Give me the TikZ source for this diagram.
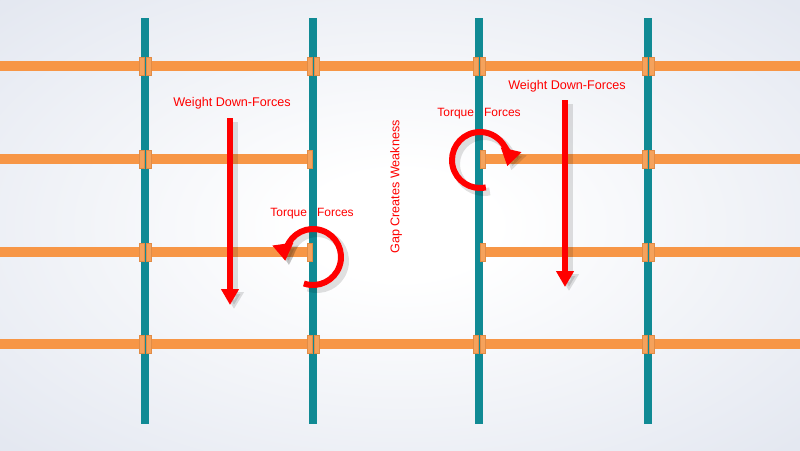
\documentclass[tikz,border=0pt]{standalone}
\usepackage{fontspec}
\setmainfont{Liberation Sans}
\usetikzlibrary{arrows.meta}
\definecolor{bgout}{RGB}{200,208,226}
\definecolor{postc}{RGB}{16,138,148}
\definecolor{beamc}{RGB}{247,150,70}
\definecolor{brkc}{RGB}{245,162,92}
\definecolor{brkd}{RGB}{225,140,70}
\definecolor{redc}{RGB}{255,0,0}
\pgfdeclareradialshading{bgshade}{\pgfpoint{0bp}{0bp}}{color(0bp)=(white); color(6bp)=(white); color(50bp)=(bgout!75!white); color(72bp)=(bgout); color(100bp)=(bgout)}
\tikzset{
  post/.style={fill=postc, draw=none},
  beam/.style={fill=beamc, draw=none},
  brk/.style={fill=brkc, draw=brkd, line width=0.4pt},
  lbl/.style={text=redc, font=\fontsize{12.6}{14}\selectfont, inner sep=0pt},
  tlbl/.style={text=redc, font=\fontsize{12}{14}\selectfont, inner sep=0pt},
  force/.style={draw=redc, line width=6pt, -{Triangle[width=17pt,length=16pt]}},
  forceshadow/.style={draw=black, opacity=0.12, line width=8pt, -{Triangle[width=19pt,length=17pt]}},
  torque/.style={draw=redc, line width=6pt, -{Triangle[width=20pt,length=17pt]}},
  torqueshadow/.style={draw=black, opacity=0.12, line width=8pt, -{Triangle[width=22pt,length=18pt]}},
}
\begin{document}
\begin{tikzpicture}[x=1pt,y=-1pt]
\useasboundingbox (0,0) rectangle (800,450);
\shade[shading=bgshade] (0,0) rectangle (800,450);
% beams
\foreach \y in {66,344} \fill[beam] (0,\y-5) rectangle (800,\y+5);
\foreach \y in {159,252} {
  \fill[beam] (0,\y-5) rectangle (312,\y+5);
  \fill[beam] (481,\y-5) rectangle (800,\y+5);
}
% labels
\node[lbl] (w1) at (232,103) {Weight Down-Forces};
\node[lbl] (w2) at (567,86) {Weight Down-Forces};
\node[tlbl] (t1) at (312,214) {Torque\hspace{10pt}Forces};
\node[tlbl] (t2) at (479,114) {Torque\hspace{10pt}Forces};
\node[lbl, rotate=90] (gap) at (396,187) {Gap Creates Weakness};
% posts
\foreach \x in {145,313,479,648} \fill[post] (\x-4,18) rectangle (\x+4,424);
% brackets
\foreach \x in {145,313,479,648} \foreach \y in {66,344} {
  \filldraw[brk] (\x-6,\y-9) rectangle (\x-1,\y+9);
  \filldraw[brk] (\x+1,\y-9) rectangle (\x+6,\y+9);
}
\foreach \y in {159,252} {
  \filldraw[brk] (145-6,\y-9) rectangle (145-1,\y+9);
  \filldraw[brk] (145+1,\y-9) rectangle (145+6,\y+9);
  \filldraw[brk] (648-6,\y-9) rectangle (648-1,\y+9);
  \filldraw[brk] (648+1,\y-9) rectangle (648+6,\y+9);
  \filldraw[brk] (313-6,\y-9) rectangle (313-1,\y+9);
  \filldraw[brk] (479+1,\y-9) rectangle (479+6,\y+9);
}
% force coordinates
\coordinate (w1s) at (230,118);
\coordinate (w1e) at (230,305);
\coordinate (w2s) at (565,100);
\coordinate (w2e) at (565,287);
\coordinate (c1) at (313,257);
\coordinate (c2) at (480,160);
% shadows
\draw[forceshadow] ([shift={(4,4)}]w1s) -- ([shift={(4,4)}]w1e);
\draw[forceshadow] ([shift={(4,4)}]w2s) -- ([shift={(4,4)}]w2e);
\draw[torqueshadow] ([shift={(4,4)}]c1) ++(109:28) arc[start angle=109, end angle=-188, radius=28];
\draw[torqueshadow] ([shift={(4,4)}]c2) ++(78:28) arc[start angle=78, end angle=373, radius=28];
% forces
\draw[force] (w1s) -- (w1e);
\draw[force] (w2s) -- (w2e);
\draw[torque] (c1) ++(109:28) arc[start angle=109, end angle=-188, radius=28];
\draw[torque] (c2) ++(78:28) arc[start angle=78, end angle=373, radius=28];
\end{tikzpicture}
\end{document}
